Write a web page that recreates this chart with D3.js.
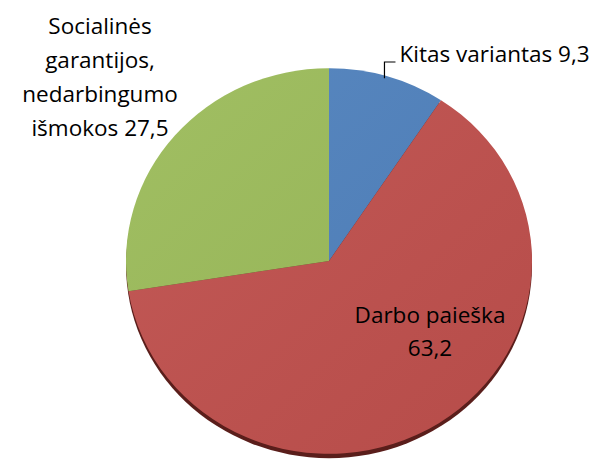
<!DOCTYPE html>
<html>
<head>
<meta charset="utf-8">
<script src="https://cdn.jsdelivr.net/npm/d3@7"></script>
<style>
  html, body { margin: 0; padding: 0; background: #fff; }
  svg { display: block; }
  text { font-family: "Open Sans", "Noto Sans", sans-serif; fill: #000; }
</style>
</head>
<body>
<svg id="chart" width="597" height="462"></svg>
<script>
// chart data
const categories = ['Kitas variantas', 'Darbo paieška', 'Socialinės garantijos, nedarbingumo išmokos'];
const values = [9.3, 63.2, 27.5];
const colors = ['#4f81bd', '#c0504d', '#9bbb59'];

const width = 597;
const height = 462;
const cx = 329;
const cy = 261;
const radius = 203;
const tilt = 0.95; // slight 3d look, pie is squashed vertically

const lt = d3.formatLocale({ decimal: ',', thousands: ' ', grouping: [3], currency: ['', ''] });
const fmt = lt.format('.1f');

const svg = d3.select('#chart');
const defs = svg.append('defs');

// soft light over the slices
const shine = defs.append('linearGradient')
  .attr('id', 'shine')
  .attr('x1', 0).attr('y1', 0).attr('x2', 1).attr('y2', 1);
shine.append('stop').attr('offset', '0%').attr('stop-color', '#fff').attr('stop-opacity', 0.06);
shine.append('stop').attr('offset', '100%').attr('stop-color', '#000').attr('stop-opacity', 0.05);

const pie = d3.pie().sort(null).value((d) => d)(values);

const arcGen = d3.arc().innerRadius(0).outerRadius(radius);

const pieG = svg.append('g')
  .attr('transform', `translate(${cx},${cy}) scale(1,${tilt})`);

// dark rim under the pie (bottom edge)
pieG.append('circle')
  .attr('cx', 0)
  .attr('cy', 4.5)
  .attr('r', radius)
  .attr('fill', '#5a1e1b');

pieG.selectAll('.slice')
  .data(pie)
  .join('path')
  .attr('class', 'slice')
  .attr('d', arcGen)
  .attr('fill', (d, i) => colors[i]);

pieG.append('circle')
  .attr('r', radius)
  .attr('fill', 'url(#shine)');

const fontSize = 22.5;

// blue slice: label outside with a leader line
const blue = pie[0];
const midA = (blue.startAngle + blue.endAngle) / 2;
const edgeX = cx + radius * Math.sin(midA) - 3;
const edgeY = cy - radius * Math.cos(midA) * tilt + 2;
const labelY = 62;

svg.append('path')
  .attr('d', `M${edgeX},${edgeY} V${labelY} H${edgeX + 11}`)
  .attr('fill', 'none')
  .attr('stroke', '#000')
  .attr('stroke-width', 1.2);

svg.append('text')
  .attr('x', edgeX + 15)
  .attr('y', labelY)
  .attr('font-size', fontSize)
  .text(`${categories[0]} ${fmt(values[0])}`);

// red slice: label inside
const redLines = [categories[1], fmt(values[1])];
svg.append('text')
  .attr('text-anchor', 'middle')
  .attr('font-size', fontSize)
  .selectAll('tspan')
  .data(redLines)
  .join('tspan')
  .attr('x', 430)
  .attr('y', (d, i) => 323 + i * 33)
  .text((d) => d);

// green slice: label top left
const greenLines = ['Socialinės', 'garantijos,', 'nedarbingumo', `išmokos ${fmt(values[2])}`];
svg.append('text')
  .attr('text-anchor', 'middle')
  .attr('font-size', fontSize)
  .selectAll('tspan')
  .data(greenLines)
  .join('tspan')
  .attr('x', 100)
  .attr('y', (d, i) => 34 + i * 34)
  .text((d) => d);
</script>
</body>
</html>
